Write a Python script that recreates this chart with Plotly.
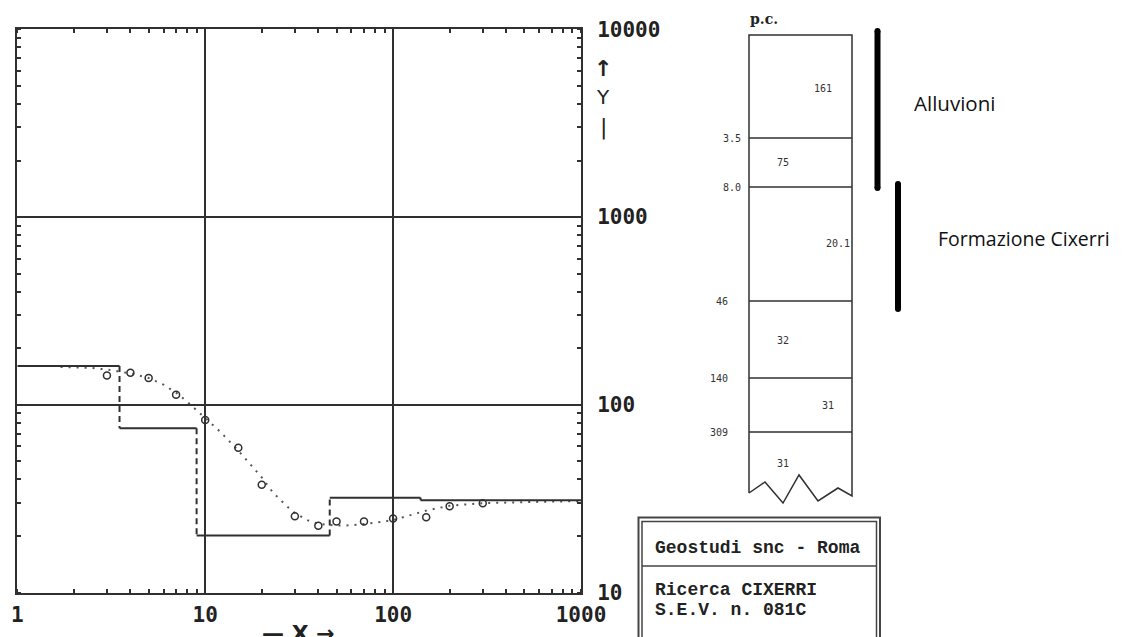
import plotly.graph_objects as go

# ---------------- data ----------------
# observed apparent resistivity (circles)
obs_x = [3, 4, 5, 7, 10, 15, 20, 30, 40, 50, 70, 100, 150, 200, 300]
obs_y = [143, 148, 139, 113, 83, 59, 37.5, 25.5, 22.7, 23.9, 23.9, 24.8, 25.2, 28.8, 29.9]

# calculated curve (dotted)
calc_x = [1.7, 2, 2.5, 3, 3.5, 4, 5, 6, 7, 8, 10, 12, 15, 20, 23, 27, 30, 35, 40,
          50, 60, 80, 100, 120, 150, 200, 300, 500, 1000]
calc_y = [159, 158.5, 157, 154, 150, 147, 139, 128, 116, 104, 85, 72, 57, 41, 34, 29,
          26.5, 24.3, 23.2, 22.7, 22.8, 23.5, 24.3, 25.6, 27.3, 29.0, 29.9, 30.3, 30.7]

# layered model (step curve)
model_bounds = [3.5, 9.0, 46, 140, 309]
model_rho = [161, 75, 20.1, 32, 31, 31]
x_min, x_max = 1, 1000

# axis ticks
x_ticks = [1, 10, 100, 1000]
x_ticktext = ["1", "10", "100", "1000"]
y_ticks = [10, 100, 1000, 10000]
y_ticktext = ["10", "100", "1000", "10000"]

# stratigraphic column labels
depth_labels = ["3.5", "8.0", "46", "140", "309"]
rho_labels = ["161", "75", "20.1", "32", "31", "31"]
unit_names = ["Alluvioni", "Formazione Cixerri"]
title_lines = ["Geostudi snc - Roma", "Ricerca CIXERRI", "S.E.V. n. 081C"]

# ---------------- layout helpers ----------------
# the page body has an 8px margin, so the figure starts at (8, 8) of the window
OFF = 8
W, H = 1124 - OFF, 637 - OFF
def fx(p):
    return (p - OFF) / W
def fy(p):
    return 1 - (p - OFF) / H

DARK = "#303030"
MONO = "DejaVu Sans Mono"

# step curve segments
edges = [x_min] + model_bounds + [x_max]
hx, hy, vx, vy = [], [], [], []
for i, r in enumerate(model_rho):
    hx += [edges[i], edges[i + 1], None]
    hy += [r, r, None]
for i, b in enumerate(model_bounds):
    if model_rho[i] != model_rho[i + 1]:
        vx += [b, b, None]
        vy += [model_rho[i], model_rho[i + 1], None]

fig = go.Figure()
fig.add_trace(go.Scatter(x=calc_x, y=calc_y, mode="lines",
                         line=dict(color="#555555", width=2, dash="2px,6px"),
                         hoverinfo="skip"))
fig.add_trace(go.Scatter(x=hx, y=hy, mode="lines",
                         line=dict(color=DARK, width=2), hoverinfo="skip"))
fig.add_trace(go.Scatter(x=vx, y=vy, mode="lines",
                         line=dict(color=DARK, width=2, dash="6px,4px"), hoverinfo="skip"))
fig.add_trace(go.Scatter(x=obs_x, y=obs_y, mode="markers",
                         marker=dict(symbol="circle-open", size=7, color=DARK,
                                     line=dict(width=1.5, color=DARK))))

axis_common = dict(type="log", showgrid=True, gridcolor=DARK, gridwidth=2,
                   showline=True, linecolor=DARK, linewidth=2, mirror="allticks",
                   ticks="", zeroline=False, automargin=False,
                   tickfont=dict(family=MONO, size=21, color="#222", weight="bold"),
                   minor=dict(ticks="inside", ticklen=4, tickwidth=1.5,
                              tickcolor=DARK, dtick="D1", showgrid=False))

fig.update_layout(
    width=W, height=H, margin=dict(l=0, r=0, t=0, b=0, autoexpand=False),
    paper_bgcolor="white", plot_bgcolor="white", showlegend=False,
    xaxis=dict(axis_common, domain=[fx(17.3), fx(581)], range=[0, 3],
               tickvals=x_ticks, ticktext=x_ticktext, ticklabelstandoff=2),
    yaxis=dict(axis_common, domain=[fy(592.5), fy(29.3)], range=[1, 4], side="right",
               tickvals=y_ticks, ticktext=y_ticktext, ticklabelstandoff=10),
)

shapes = []
ann = []

def line(x0, y0, x1, y1, w=1.5, c=DARK):
    shapes.append(dict(type="line", xref="paper", yref="paper",
                       x0=fx(x0), y0=fy(y0), x1=fx(x1), y1=fy(y1),
                       line=dict(color=c, width=w)))

def text(t, x, y, size, family=MONO, xanchor="center", bold=False, color="#222"):
    ann.append(dict(text=t, x=fx(x), y=fy(y), xref="paper", yref="paper",
                    xanchor=xanchor, yanchor="middle", showarrow=False,
                    font=dict(family=family, size=size, color=color,
                              weight="bold" if bold else "normal")))

# axis direction labels
text("↑", 603, 69, 22, family="DejaVu Sans", bold=True)
text("Y", 603, 97, 20, family="DejaVu Sans")
text("|", 603, 127, 22, family="DejaVu Sans")
ann.append(dict(text="<b>— X →</b>", x=fx(298), y=fy(619), xref="paper", yref="paper",
                xanchor="center", yanchor="top", showarrow=False,
                font=dict(family="DejaVu Sans", size=22, color="#222")))

# stratigraphic column
colL, colR, colT = 749, 852, 35
bound_y = [138, 187, 301, 378, 432]
zig = [(colL, 493), (765, 482), (783, 503), (799, 475), (818, 501), (838, 488), (colR, 496)]
path = f"M {fx(colL)},{fy(zig[0][1])} L {fx(colL)},{fy(colT)} L {fx(colR)},{fy(colT)} L {fx(colR)},{fy(zig[-1][1])}"
for (zx, zy) in reversed(zig[:-1]):
    path += f" L {fx(zx)},{fy(zy)}"
shapes.append(dict(type="path", xref="paper", yref="paper", path=path,
                   line=dict(color=DARK, width=1.5)))
for by in bound_y:
    line(colL, by, colR, by)

text("p.c.", 764, 19, 14, family="DejaVu Serif", bold=True)
depth_right = [743, 743, 730, 730, 730]
for lab, by, xr in zip(depth_labels, bound_y, depth_right):
    text(lab, xr, by, 10, xanchor="right", color="#333")
rho_pos = [(823, 89), (783, 163), (838, 243), (783, 340), (828, 405), (783, 463)]
for lab, (rx, ry) in zip(rho_labels, rho_pos):
    text(lab, rx, ry, 10, color="#333")

# unit bars
bars = [(877.5, 31, 188), (898, 184, 309)]
for bx, b0, b1 in bars:
    line(bx, b0, bx, b1, w=6, c="black")
    for by in (b0, b1):
        shapes.append(dict(type="circle", xref="paper", yref="paper",
                           x0=fx(bx - 3), x1=fx(bx + 3), y0=fy(by - 3), y1=fy(by + 3),
                           fillcolor="black", line=dict(width=0)))
text(unit_names[0], 912, 103, 20.5, family="Open Sans", xanchor="left", color="#111")
text(unit_names[1], 936, 238, 19.5, family="Open Sans", xanchor="left", color="#111")

# title box
shapes.append(dict(type="rect", xref="paper", yref="paper",
                   x0=fx(638.5), x1=fx(880), y0=fy(517.5), y1=fy(645),
                   line=dict(color="#444", width=2)))
shapes.append(dict(type="rect", xref="paper", yref="paper",
                   x0=fx(642), x1=fx(876.5), y0=fy(521.5), y1=fy(645),
                   line=dict(color="#444", width=1.5)))
line(642, 566, 876.5, 566, w=1.5, c="#444")
text(title_lines[0], 653, 548, 18, family="Liberation Mono", xanchor="left", bold=True)
text(title_lines[1], 653, 590, 18, family="Liberation Mono", xanchor="left", bold=True)
text(title_lines[2], 653, 610, 18, family="Liberation Mono", xanchor="left", bold=True)

fig.update_layout(shapes=shapes, annotations=ann)
fig.write_html("out.html")
